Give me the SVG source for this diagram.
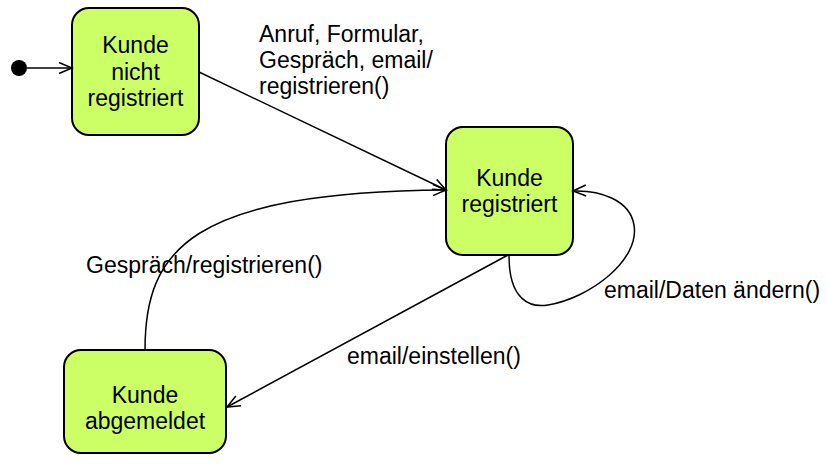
<svg xmlns="http://www.w3.org/2000/svg" width="827" height="468" viewBox="0 0 827 468">
<defs>
<marker id="arr" markerUnits="userSpaceOnUse" markerWidth="16" markerHeight="14" refX="14" refY="6" orient="auto">
<path d="M1,0.5 L14,6 L1,11.5" fill="none" stroke="#000" stroke-width="1.5"/>
</marker>
<style>
.node{fill:#CCFF66;stroke:#000;stroke-width:2}
.lbl{font-family:"Liberation Sans",Arial,sans-serif;font-size:23px;fill:#000}
.ctr{text-anchor:middle}
.con{fill:none;stroke:#000;stroke-width:1.5;marker-end:url(#arr)}
</style>
</defs>
<rect width="827" height="468" fill="#fff"/>
<g id="initial">
<circle cx="19" cy="68" r="8" fill="#000"/>
</g>
<g id="n1">
<rect class="node" x="72" y="8" width="127" height="127" rx="17"/>
<text class="lbl ctr" x="135.5" y="53">Kunde</text>
<text class="lbl ctr" x="135.5" y="80">nicht</text>
<text class="lbl ctr" x="135.5" y="106">registriert</text>
</g>
<g id="n2">
<rect class="node" x="446" y="127" width="127" height="128" rx="17"/>
<text class="lbl ctr" x="509.5" y="186">Kunde</text>
<text class="lbl ctr" x="509.5" y="212">registriert</text>
</g>
<g id="n3">
<rect class="node" x="64" y="350" width="162" height="103" rx="17"/>
<text class="lbl ctr" x="145" y="403">Kunde</text>
<text class="lbl ctr" x="145" y="429">abgemeldet</text>
</g>
<g id="connectors">
<path class="con" d="M27,68 L72,68"/>
<path class="con" d="M199,72 L446,190"/>
<path class="con" d="M145,350 C145,250 190,192 446,190"/>
<path class="con" d="M508,255 L227,407"/>
<path class="con" d="M509,256 C509,300 530,308 548,305 C590,298 640,260 634,225 C630,200 600,190 573,191"/>
<text class="lbl" x="259" y="41.5">Anruf, Formular,</text>
<text class="lbl" x="259" y="67.5">Gespräch, email/</text>
<text class="lbl" x="259" y="93.5">registrieren()</text>
<text class="lbl" x="86" y="273">Gespräch/registrieren()</text>
<text class="lbl" x="347" y="364">email/einstellen()</text>
<text class="lbl" x="604" y="298">email/Daten ändern()</text>
</g>
</svg>
